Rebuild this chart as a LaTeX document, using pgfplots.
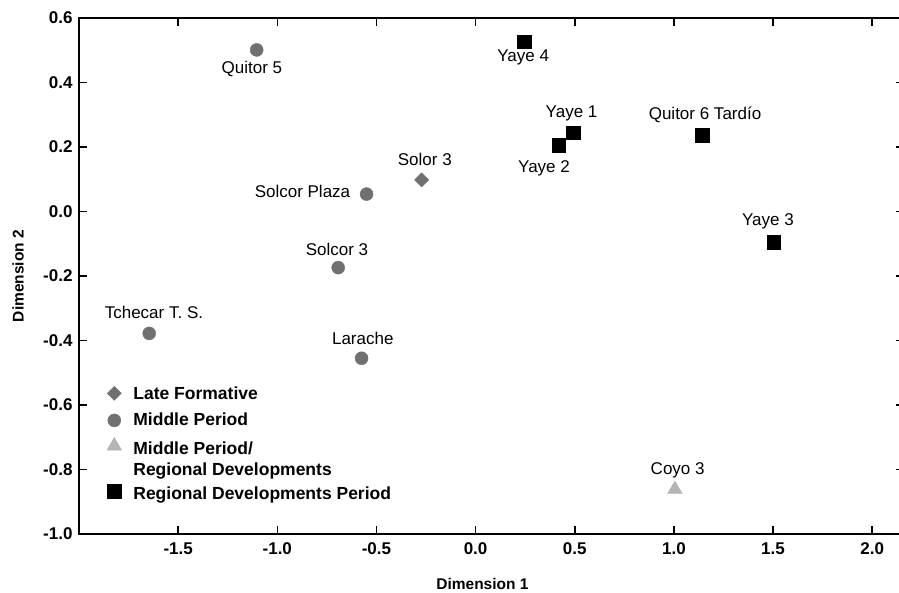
\documentclass[border=0pt]{standalone}
\usepackage{pgfplots}
\pgfplotsset{compat=1.18}
\usepackage{fontspec}
\setmainfont{Liberation Sans}
\definecolor{midgray}{HTML}{707070}
\definecolor{lightgray2}{HTML}{B4B4B4}
\begin{document}
\begin{tikzpicture}
\begin{axis}[
  scale only axis, width=825pt, height=516pt,
  xmin=-2.0, xmax=2.1604, ymin=-1.0, ymax=0.6,
  xtick={-1.5,-1.0,-0.5,0.0,0.5,1.0,1.5,2.0},
  ytick={-1.0,-0.8,-0.6,-0.4,-0.2,0.0,0.2,0.4,0.6},
  tick align=inside, major tick length=8pt,
  tick style={line width=1.5pt, black},
  axis line style={line width=2pt},
  /pgf/number format/.cd, fixed, fixed zerofill, precision=1, assume math mode=true, /pgfplots/.cd,
  xticklabel style={font=\fontsize{17}{20}\selectfont\bfseries, yshift=-5pt},
  yticklabel style={font=\fontsize{17}{20}\selectfont\bfseries, xshift=-3pt},
  xlabel={Dimension 1}, ylabel={Dimension 2},
  every axis x label/.style={at={(axis cs:0.0345,-1.0)}, anchor=center, yshift=-50pt, font=\fontsize{15.5}{18}\selectfont\bfseries},
  every axis y label/.style={at={(axis cs:-2.3075,-0.2)}, rotate=90, anchor=center, font=\fontsize{15.5}{18}\selectfont\bfseries},
  legend style={at={(axis cs:-1.866,-0.5318)}, anchor=north west, draw=none, fill=none, inner sep=0pt,
    font=\fontsize{17.5}{20.4}\selectfont\bfseries, row sep=0pt, column sep=9.7pt, cells={anchor=base west}},
  legend image post style={yshift=3pt},
  legend cell align=left,
  clip=false,
]
\addplot[only marks, mark=square*, mark size=5pt, mark options={rotate=45, fill=midgray, draw=midgray}]
  coordinates {(-0.272,0.098)};
\addlegendentry[text height=16pt, text depth=10.2pt, inner ysep=0pt]{Late Formative}
\addplot[only marks, mark=*, mark size=6.5pt, mark options={fill=midgray, draw=midgray}]
  coordinates {(-1.104,0.501) (-0.55,0.054) (-0.693,-0.174) (-0.575,-0.455) (-1.646,-0.378)};
\addlegendentry[text height=16pt, text depth=12pt, inner ysep=0pt]{Middle Period}
\addplot[only marks, mark=triangle*, mark size=8.5pt, mark options={fill=lightgray2, draw=lightgray2}]
  coordinates {(1.005,-0.862)};
\addlegendentry[text height=16pt, text depth=4.4pt, inner ysep=0pt]{Middle Period/}
\addlegendimage{empty legend}
\addlegendentry[text height=16pt, text depth=8.8pt, inner ysep=0pt]{Regional Developments}
\addplot[only marks, mark=square*, mark size=6.8pt, mark options={fill=black, draw=black}]
  coordinates {(0.244,0.5265) (0.492,0.244) (0.42,0.205) (1.144,0.236) (1.504,-0.095)};
\addlegendentry[text height=16pt, text depth=5pt, inner ysep=0pt]{Regional Developments Period}

\begin{scope}[every node/.style={font=\fontsize{17}{20}\selectfont, anchor=base, inner sep=0pt}]
\node at (axis cs:-1.128,0.428) {Quitor 5};
\node at (axis cs:0.240,0.465) {Yaye 4};
\node at (axis cs:0.484,0.292) {Yaye 1};
\node at (axis cs:0.345,0.122) {Yaye 2};
\node at (axis cs:1.157,0.285) {Quitor 6 Tardío};
\node at (axis cs:1.474,-0.042) {Yaye 3};
\node at (axis cs:-0.256,0.143) {Solor 3};
\node at (axis cs:-0.873,0.044) {Solcor Plaza};
\node at (axis cs:-0.699,-0.136) {Solcor 3};
\node at (axis cs:-0.569,-0.411) {Larache};
\node at (axis cs:-1.622,-0.333) {Tchecar T. S.};
\node at (axis cs:1.019,-0.817) {Coyo 3};
\end{scope}
\end{axis}
\pgfresetboundingbox
\path[use as bounding box] (-79pt,-58pt) rectangle (820pt,534pt);
\end{tikzpicture}
\end{document}
